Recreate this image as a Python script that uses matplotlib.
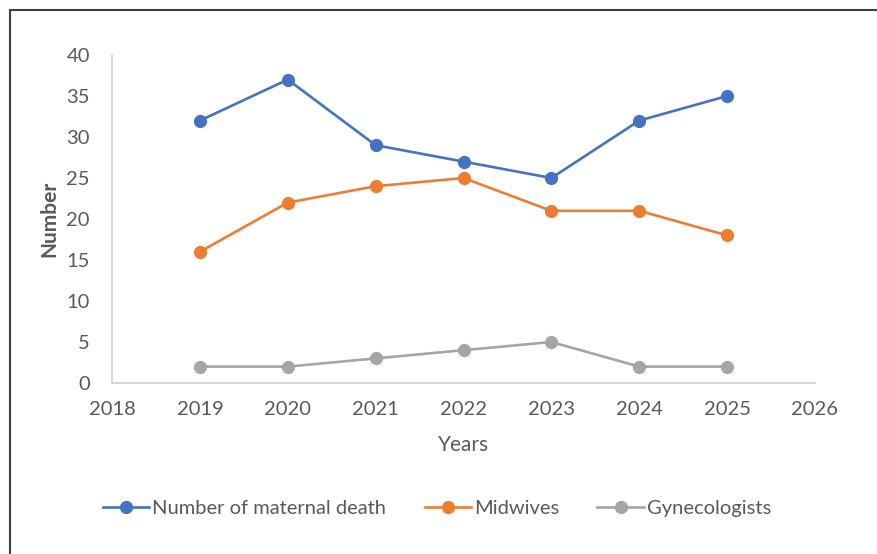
import matplotlib.pyplot as plt
from matplotlib.patches import Rectangle

plt.rcParams['font.family'] = ['Lato', 'DejaVu Sans']

years = [2019, 2020, 2021, 2022, 2023, 2024, 2025]
maternal_deaths = [32, 37, 29, 27, 25, 32, 35]
midwives = [16, 22, 24, 25, 21, 21, 18]
gynecologists = [2, 2, 3, 4, 5, 2, 2]

grey = '#595959'

fig = plt.figure(figsize=(8.77, 5.54), dpi=100)
ax = fig.add_axes([112 / 877, 1 - 383 / 554, (815 - 112) / 877, (383 - 55) / 554])

ax.plot(years, maternal_deaths, color='#4472C4', lw=1.9, marker='o', ms=8.5,
        label='Number of maternal death')
ax.plot(years, midwives, color='#ED7D31', lw=1.9, marker='o', ms=8.5,
        label='Midwives')
ax.plot(years, gynecologists, color='#A5A5A5', lw=1.9, marker='o', ms=8.5,
        label='Gynecologists')

ax.set_xlim(2018, 2026)
ax.set_ylim(0, 40)
ax.set_xticks(range(2018, 2027))
ax.set_yticks(range(0, 41, 5))
ax.tick_params(length=0, labelsize=14.5, labelcolor=grey)
ax.tick_params(axis='x', pad=13)
ax.tick_params(axis='y', pad=16)

for s in ['top', 'right']:
    ax.spines[s].set_visible(False)
for s in ['left', 'bottom']:
    ax.spines[s].set_color('#D0D0D0')
    ax.spines[s].set_linewidth(1.2)

ax.set_xlabel('Years', fontsize=15, color=grey, labelpad=12)
ax.set_ylabel('Number', fontsize=15, color=grey, fontweight='bold', labelpad=5)

fig.legend(loc='center', bbox_to_anchor=(437 / 877, 1 - 508 / 554), ncol=3,
           frameon=False, fontsize=14.5, labelcolor=grey, handlelength=2.3,
           handletextpad=0.15, columnspacing=1.9)

fig.add_artist(Rectangle((10 / 877, -0.1), 2, 1 - 10 / 554 + 0.1,
                         transform=fig.transFigure, fill=False,
                         edgecolor='#404040', lw=1.5))

fig.savefig('out.png', dpi=100)
